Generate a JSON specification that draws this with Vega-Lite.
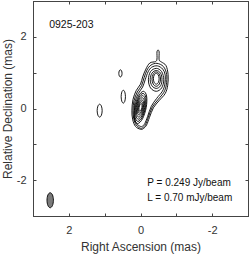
{
"$schema": "https://vega.github.io/schema/vega-lite/v6.json",
"width": 215, "height": 215,
"autosize": {"type": "none"},
"padding": {"left": 33, "top": 1, "right": 1, "bottom": 38},
"config": {"view": {"stroke": "#444", "strokeWidth": 1}, "font": "Liberation Sans",
  "axis": {"grid": false, "domainColor": "#444", "tickColor": "#444", "labelColor": "#333", "titleColor": "#333", "labelFontSize": 11, "titleFontSize": 12, "titleFontWeight": "normal", "labelFont": "Liberation Sans", "titleFont": "Liberation Sans"}},
"datasets": {
"contours": [
{"id":"C1","i":0,"x":0.0,"y":-0.58},{"id":"C1","i":1,"x":0.14,"y":-0.5},{"id":"C1","i":2,"x":0.22,"y":-0.3},{"id":"C1","i":3,"x":0.24,"y":-0.05},{"id":"C1","i":4,"x":0.21,"y":0.25},{"id":"C1","i":5,"x":0.12,"y":0.5},{"id":"C1","i":6,"x":0.0,"y":0.68},{"id":"C1","i":7,"x":-0.06,"y":0.88},{"id":"C1","i":8,"x":-0.15,"y":1.1},{"id":"C1","i":9,"x":-0.26,"y":1.27},{"id":"C1","i":10,"x":-0.42,"y":1.31},{"id":"C1","i":11,"x":-0.46,"y":1.38},{"id":"C1","i":12,"x":-0.46,"y":1.58},{"id":"C1","i":13,"x":-0.49,"y":1.63},{"id":"C1","i":14,"x":-0.52,"y":1.58},{"id":"C1","i":15,"x":-0.52,"y":1.36},{"id":"C1","i":16,"x":-0.58,"y":1.3},{"id":"C1","i":17,"x":-0.71,"y":1.2},{"id":"C1","i":18,"x":-0.77,"y":0.95},{"id":"C1","i":19,"x":-0.76,"y":0.65},{"id":"C1","i":20,"x":-0.69,"y":0.42},{"id":"C1","i":21,"x":-0.52,"y":0.22},{"id":"C1","i":22,"x":-0.36,"y":0.02},{"id":"C1","i":23,"x":-0.25,"y":-0.25},{"id":"C1","i":24,"x":-0.17,"y":-0.46},{"id":"C1","i":25,"x":-0.08,"y":-0.56},
{"id":"C2","i":0,"x":0.0,"y":-0.55},{"id":"C2","i":1,"x":0.12,"y":-0.46},{"id":"C2","i":2,"x":0.19,"y":-0.28},{"id":"C2","i":3,"x":0.21,"y":-0.05},{"id":"C2","i":4,"x":0.18,"y":0.22},{"id":"C2","i":5,"x":0.09,"y":0.46},{"id":"C2","i":6,"x":-0.03,"y":0.64},{"id":"C2","i":7,"x":-0.1,"y":0.86},{"id":"C2","i":8,"x":-0.18,"y":1.07},{"id":"C2","i":9,"x":-0.29,"y":1.21},{"id":"C2","i":10,"x":-0.46,"y":1.26},{"id":"C2","i":11,"x":-0.64,"y":1.17},{"id":"C2","i":12,"x":-0.73,"y":0.95},{"id":"C2","i":13,"x":-0.72,"y":0.66},{"id":"C2","i":14,"x":-0.65,"y":0.45},{"id":"C2","i":15,"x":-0.49,"y":0.25},{"id":"C2","i":16,"x":-0.33,"y":0.04},{"id":"C2","i":17,"x":-0.22,"y":-0.24},{"id":"C2","i":18,"x":-0.14,"y":-0.45},{"id":"C2","i":19,"x":-0.07,"y":-0.53},
{"id":"C3","i":0,"x":0.0,"y":-0.5},{"id":"C3","i":1,"x":0.11,"y":-0.42},{"id":"C3","i":2,"x":0.17,"y":-0.26},{"id":"C3","i":3,"x":0.18,"y":-0.05},{"id":"C3","i":4,"x":0.15,"y":0.2},{"id":"C3","i":5,"x":0.06,"y":0.42},{"id":"C3","i":6,"x":-0.06,"y":0.6},{"id":"C3","i":7,"x":-0.13,"y":0.8},{"id":"C3","i":8,"x":-0.21,"y":1.02},{"id":"C3","i":9,"x":-0.31,"y":1.15},{"id":"C3","i":10,"x":-0.47,"y":1.19},{"id":"C3","i":11,"x":-0.62,"y":1.1},{"id":"C3","i":12,"x":-0.69,"y":0.93},{"id":"C3","i":13,"x":-0.68,"y":0.68},{"id":"C3","i":14,"x":-0.61,"y":0.48},{"id":"C3","i":15,"x":-0.45,"y":0.28},{"id":"C3","i":16,"x":-0.3,"y":0.06},{"id":"C3","i":17,"x":-0.2,"y":-0.22},{"id":"C3","i":18,"x":-0.12,"y":-0.42},{"id":"C3","i":19,"x":-0.06,"y":-0.49},
{"id":"K1","i":0,"x":0.16,"y":0.03},{"id":"K1","i":1,"x":0.056,"y":0.348},{"id":"K1","i":2,"x":-0.081,"y":0.48},{"id":"K1","i":3,"x":-0.17,"y":0.348},{"id":"K1","i":4,"x":-0.16,"y":0.03},{"id":"K1","i":5,"x":-0.056,"y":-0.288},{"id":"K1","i":6,"x":0.081,"y":-0.42},{"id":"K1","i":7,"x":0.17,"y":-0.288},
{"id":"K2","i":0,"x":0.14,"y":0.03},{"id":"K2","i":1,"x":0.049,"y":0.306},{"id":"K2","i":2,"x":-0.07,"y":0.42},{"id":"K2","i":3,"x":-0.149,"y":0.306},{"id":"K2","i":4,"x":-0.14,"y":0.03},{"id":"K2","i":5,"x":-0.049,"y":-0.246},{"id":"K2","i":6,"x":0.07,"y":-0.36},{"id":"K2","i":7,"x":0.149,"y":-0.246},
{"id":"K3","i":0,"x":0.12,"y":0.03},{"id":"K3","i":1,"x":0.043,"y":0.263},{"id":"K3","i":2,"x":-0.059,"y":0.36},{"id":"K3","i":3,"x":-0.127,"y":0.263},{"id":"K3","i":4,"x":-0.12,"y":0.03},{"id":"K3","i":5,"x":-0.043,"y":-0.203},{"id":"K3","i":6,"x":0.059,"y":-0.3},{"id":"K3","i":7,"x":0.127,"y":-0.203},
{"id":"K4","i":0,"x":0.1,"y":0.03},{"id":"K4","i":1,"x":0.037,"y":0.221},{"id":"K4","i":2,"x":-0.049,"y":0.3},{"id":"K4","i":3,"x":-0.105,"y":0.221},{"id":"K4","i":4,"x":-0.1,"y":0.03},{"id":"K4","i":5,"x":-0.037,"y":-0.161},{"id":"K4","i":6,"x":0.049,"y":-0.24},{"id":"K4","i":7,"x":0.105,"y":-0.161},
{"id":"K5","i":0,"x":0.08,"y":0.03},{"id":"K5","i":1,"x":0.03,"y":0.178},{"id":"K5","i":2,"x":-0.038,"y":0.24},{"id":"K5","i":3,"x":-0.084,"y":0.178},{"id":"K5","i":4,"x":-0.08,"y":0.03},{"id":"K5","i":5,"x":-0.03,"y":-0.118},{"id":"K5","i":6,"x":0.038,"y":-0.18},{"id":"K5","i":7,"x":0.084,"y":-0.118},
{"id":"K6","i":0,"x":0.06,"y":0.03},{"id":"K6","i":1,"x":0.022,"y":0.143},{"id":"K6","i":2,"x":-0.029,"y":0.19},{"id":"K6","i":3,"x":-0.062,"y":0.143},{"id":"K6","i":4,"x":-0.06,"y":0.03},{"id":"K6","i":5,"x":-0.022,"y":-0.083},{"id":"K6","i":6,"x":0.029,"y":-0.13},{"id":"K6","i":7,"x":0.062,"y":-0.083},
{"id":"K7","i":0,"x":0.04,"y":0.03},{"id":"K7","i":1,"x":0.014,"y":0.108},{"id":"K7","i":2,"x":-0.02,"y":0.14},{"id":"K7","i":3,"x":-0.042,"y":0.108},{"id":"K7","i":4,"x":-0.04,"y":0.03},{"id":"K7","i":5,"x":-0.014,"y":-0.048},{"id":"K7","i":6,"x":0.02,"y":-0.08},{"id":"K7","i":7,"x":0.042,"y":-0.048},
{"id":"J1","i":0,"x":-0.22,"y":0.8},{"id":"J1","i":1,"x":-0.28,"y":1.03},{"id":"J1","i":2,"x":-0.44,"y":1.12},{"id":"J1","i":3,"x":-0.59,"y":1.03},{"id":"J1","i":4,"x":-0.65,"y":0.8},{"id":"J1","i":5,"x":-0.59,"y":0.574},{"id":"J1","i":6,"x":-0.44,"y":0.48},{"id":"J1","i":7,"x":-0.28,"y":0.574},
{"id":"J2","i":0,"x":-0.27,"y":0.81},{"id":"J2","i":1,"x":-0.32,"y":0.987},{"id":"J2","i":2,"x":-0.44,"y":1.06},{"id":"J2","i":3,"x":-0.56,"y":0.987},{"id":"J2","i":4,"x":-0.6,"y":0.81},{"id":"J2","i":5,"x":-0.56,"y":0.633},{"id":"J2","i":6,"x":-0.44,"y":0.56},{"id":"J2","i":7,"x":-0.32,"y":0.633},
{"id":"J3","i":0,"x":-0.32,"y":0.82},{"id":"J3","i":1,"x":-0.355,"y":0.96},{"id":"J3","i":2,"x":-0.44,"y":1.02},{"id":"J3","i":3,"x":-0.525,"y":0.96},{"id":"J3","i":4,"x":-0.56,"y":0.82},{"id":"J3","i":5,"x":-0.525,"y":0.68},{"id":"J3","i":6,"x":-0.44,"y":0.62},{"id":"J3","i":7,"x":-0.355,"y":0.68},
{"id":"J4","i":0,"x":-0.36,"y":0.83},{"id":"J4","i":1,"x":-0.383,"y":0.936},{"id":"J4","i":2,"x":-0.44,"y":0.98},{"id":"J4","i":3,"x":-0.497,"y":0.936},{"id":"J4","i":4,"x":-0.52,"y":0.83},{"id":"J4","i":5,"x":-0.497,"y":0.724},{"id":"J4","i":6,"x":-0.44,"y":0.68},{"id":"J4","i":7,"x":-0.383,"y":0.724},
{"id":"E1","i":0,"x":1.21,"y":-0.06},{"id":"E1","i":1,"x":1.189,"y":0.067},{"id":"E1","i":2,"x":1.14,"y":0.12},{"id":"E1","i":3,"x":1.091,"y":0.067},{"id":"E1","i":4,"x":1.07,"y":-0.06},{"id":"E1","i":5,"x":1.091,"y":-0.187},{"id":"E1","i":6,"x":1.14,"y":-0.24},{"id":"E1","i":7,"x":1.189,"y":-0.187},
{"id":"E2","i":0,"x":0.54,"y":0.33},{"id":"E2","i":1,"x":0.522,"y":0.457},{"id":"E2","i":2,"x":0.48,"y":0.51},{"id":"E2","i":3,"x":0.438,"y":0.457},{"id":"E2","i":4,"x":0.42,"y":0.33},{"id":"E2","i":5,"x":0.438,"y":0.203},{"id":"E2","i":6,"x":0.48,"y":0.15},{"id":"E2","i":7,"x":0.522,"y":0.203},
{"id":"E3","i":0,"x":0.605,"y":0.98},{"id":"E3","i":1,"x":0.592,"y":1.051},{"id":"E3","i":2,"x":0.56,"y":1.08},{"id":"E3","i":3,"x":0.528,"y":1.051},{"id":"E3","i":4,"x":0.515,"y":0.98},{"id":"E3","i":5,"x":0.528,"y":0.909},{"id":"E3","i":6,"x":0.56,"y":0.88},{"id":"E3","i":7,"x":0.592,"y":0.909}
],
"beam": [
{"i":0,"x":2.61,"y":-2.56},{"i":1,"x":2.584,"y":-2.412},{"i":2,"x":2.52,"y":-2.35},{"i":3,"x":2.456,"y":-2.412},{"i":4,"x":2.43,"y":-2.56},{"i":5,"x":2.456,"y":-2.708},{"i":6,"x":2.52,"y":-2.77},{"i":7,"x":2.584,"y":-2.708}
],
"source": [
{"x":2.55,"y":2.33,"label":"0925-203"}
],
"notes": [
{"x":-0.19,"y":-2.09,"label":"P = 0.249 Jy/beam"},
{"x":-0.19,"y":-2.51,"label":"L = 0.70 mJy/beam"}
]
},
"layer": [
{"data": {"name": "contours"},
 "mark": {"type": "line", "interpolate": "cardinal-closed", "color": "black", "strokeWidth": 0.9},
 "encoding": {
  "x": {"field": "x", "type": "quantitative", "scale": {"domain": [-3, 3], "reverse": true, "nice": false, "zero": false},
        "axis": {"orient": "bottom", "values": [-3,-2,-1,0,1,2,3], "tickSize": -3, "labelExpr": "datum.value % 2 == 0 ? '' + datum.value : ''", "labelPadding": 11, "title": "Right Ascension (mas)", "titlePadding": 6}},
  "y": {"field": "y", "type": "quantitative", "scale": {"domain": [-3, 3], "nice": false, "zero": false},
        "axis": {"orient": "left", "values": [-3,-2,-1,0,1,2,3], "tickSize": -3, "labelExpr": "datum.value % 2 == 0 ? '' + datum.value : ''", "labelPadding": 10, "title": "Relative Declination (mas)", "titlePadding": 2}},
  "detail": {"field": "id"},
  "order": {"field": "i"}
 }},
{"data": {"name": "beam"},
 "mark": {"type": "line", "interpolate": "cardinal-closed", "fill": "#7a7a7a", "stroke": "black", "strokeWidth": 0.9},
 "encoding": {
  "x": {"field": "x", "type": "quantitative", "axis": {"orient": "top", "values": [-3,-2,-1,0,1,2,3], "tickSize": -3, "labels": false, "title": null}},
  "y": {"field": "y", "type": "quantitative", "axis": {"orient": "right", "values": [-3,-2,-1,0,1,2,3], "tickSize": -3, "labels": false, "title": null}},
  "order": {"field": "i"}
 }},
{"data": {"name": "source"},
 "mark": {"type": "text", "align": "left", "baseline": "middle", "font": "Liberation Sans", "fontSize": 10.5, "color": "#111"},
 "encoding": {
  "x": {"field": "x", "type": "quantitative", "axis": null},
  "y": {"field": "y", "type": "quantitative", "axis": null},
  "text": {"field": "label"}
 }},
{"data": {"name": "notes"},
 "mark": {"type": "text", "align": "left", "baseline": "middle", "font": "Liberation Sans", "fontSize": 10, "color": "#111"},
 "encoding": {
  "x": {"field": "x", "type": "quantitative", "axis": null},
  "y": {"field": "y", "type": "quantitative", "axis": null},
  "text": {"field": "label"}
 }}
],
"resolve": {"axis": {"x": "independent", "y": "independent"}}
}
